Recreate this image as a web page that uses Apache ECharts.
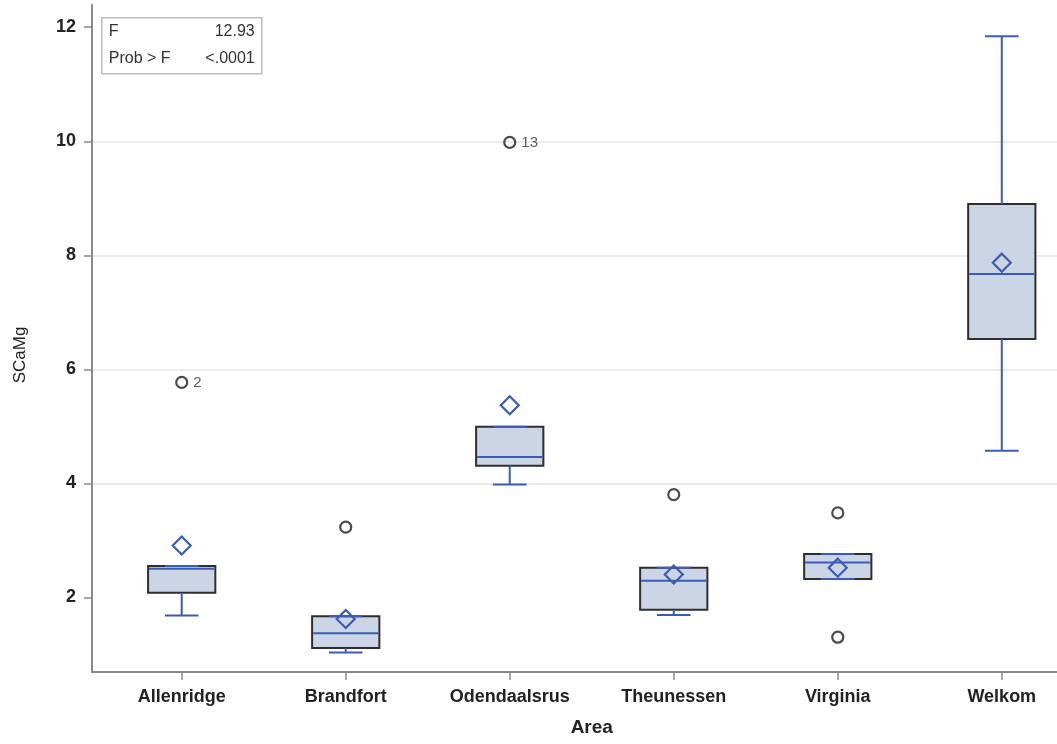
<!DOCTYPE html>
<html>
<head>
<meta charset="utf-8">
<script src="https://cdn.jsdelivr.net/npm/echarts@6/dist/echarts.min.js"></script>
<style>
  html, body { margin: 0; padding: 0; background: #fff; }
  #chart { width: 1057px; height: 744px; }
</style>
</head>
<body>
<div id="chart"></div>
<script>
// Area categories and five-number summaries of SCaMg per area
const categories   = ['Allenridge', 'Brandfort', 'Odendaalsrus', 'Theunessen', 'Virginia', 'Welkom'];
const whiskerLow   = [1.68, 1.03, 3.98, 1.69, 2.32, 4.57];
const q1Values     = [2.08, 1.11, 4.31, 1.78, 2.32, 6.53];
const medianValues = [2.50, 1.37, 4.46, 2.29, 2.61, 7.67];
const q3Values     = [2.55, 1.67, 4.99, 2.52, 2.76, 8.90];
const whiskerHigh  = [2.55, 1.67, 4.99, 2.52, 2.76, 11.84];
const meanValues   = [2.91, 1.62, 5.37, 2.40, 2.52, 7.87];

// Outlying observations: category index, value, observation id (if labelled)
const outlierCat   = [0, 1, 2, 3, 4, 4];
const outlierValue = [5.77, 3.23, 9.98, 3.80, 3.48, 1.30];
const outlierId    = ['2', '', '13', '', '', ''];

const yTicks = [2, 4, 6, 8, 10, 12];
const catIdx = categories.map((_, i) => i);

// ANOVA summary
const fValue = '12.93';
const probF  = '<.0001';

const BOX_W = 0.41;
const CAP_W = 0.205;
const BLUE = '#3a5cb6';
const FONT = '"Liberation Sans", Arial, sans-serif';

const boxData = categories.map((_, i) => [
  i, whiskerLow[i], q1Values[i], medianValues[i], q3Values[i], whiskerHigh[i], meanValues[i]
]);
const outlierData = outlierCat.map((c, k) => [c, outlierValue[k], outlierId[k]]);

function renderBox(params, api) {
  const i = api.value(0);
  const lo = api.coord([i, api.value(1)]);
  const q1 = api.coord([i, api.value(2)]);
  const md = api.coord([i, api.value(3)]);
  const q3 = api.coord([i, api.value(4)]);
  const hi = api.coord([i, api.value(5)]);
  const mn = api.coord([i, api.value(6)]);
  const bw = api.size([BOX_W, 0])[0];
  const cw = api.size([CAP_W, 0])[0];
  const cx = q1[0];
  const lineStyle = { stroke: BLUE, lineWidth: 2 };
  const d = 9;
  return {
    type: 'group',
    children: [
      { type: 'rect',
        shape: { x: cx - bw / 2, y: q3[1], width: bw, height: q1[1] - q3[1] },
        style: { fill: '#cbd5e6', stroke: '#2e2e2e', lineWidth: 2 } },
      { type: 'line', shape: { x1: cx, y1: q3[1], x2: cx, y2: hi[1] }, style: lineStyle },
      { type: 'line', shape: { x1: cx, y1: q1[1], x2: cx, y2: lo[1] }, style: lineStyle },
      { type: 'line', shape: { x1: cx - cw / 2, y1: hi[1], x2: cx + cw / 2, y2: hi[1] }, style: lineStyle },
      { type: 'line', shape: { x1: cx - cw / 2, y1: lo[1], x2: cx + cw / 2, y2: lo[1] }, style: lineStyle },
      { type: 'line', shape: { x1: cx - bw / 2 + 1, y1: md[1], x2: cx + bw / 2 - 1, y2: md[1] }, style: lineStyle },
      { type: 'polygon',
        shape: { points: [[mn[0], mn[1] - d], [mn[0] + d, mn[1]], [mn[0], mn[1] + d], [mn[0] - d, mn[1]]] },
        style: { fill: 'none', stroke: BLUE, lineWidth: 2.2 } }
    ]
  };
}

const chart = echarts.init(document.getElementById('chart'), null, { renderer: 'canvas' });

chart.setOption({
  backgroundColor: '#ffffff',
  animation: false,
  // the plot area runs past the right edge of the canvas
  grid: { left: 92, top: 5, width: 999.5, height: 667, containLabel: false, outerBoundsMode: 'none' },
  xAxis: {
    type: 'value',
    min: -0.547,
    max: 5.547,
    name: 'Area',
    nameLocation: 'middle',
    nameGap: 46,
    nameTextStyle: { fontFamily: FONT, fontSize: 19, fontWeight: 'bold', color: '#222' },
    axisLine: { show: true, onZero: false, lineStyle: { color: '#8a8a8a', width: 2 } },
    axisTick: { show: true, customValues: catIdx, length: 8, lineStyle: { color: '#8a8a8a', width: 1.5 } },
    axisLabel: {
      customValues: catIdx,
      formatter: v => categories[Math.round(v)],
      margin: 16,
      fontFamily: FONT, fontSize: 18, fontWeight: 'bold', color: '#222'
    },
    splitLine: { show: false }
  },
  yAxis: {
    type: 'value',
    min: 0.69,
    max: 12.39,
    axisLine: { show: true, onZero: false, lineStyle: { color: '#8a8a8a', width: 2 } },
    axisTick: { show: true, customValues: yTicks, length: 8, lineStyle: { color: '#8a8a8a', width: 1.5 } },
    axisLabel: {
      customValues: yTicks,
      margin: 16,
      fontFamily: FONT, fontSize: 18, fontWeight: 'bold', color: '#222'
    },
    splitLine: { show: true, showMinLine: false, showMaxLine: false, lineStyle: { color: '#e4e4e4', width: 1.5 } }
  },
  graphic: [
    {
      type: 'text', x: 20, y: 355, rotation: Math.PI / 2,
      style: { text: 'SCaMg', fontFamily: FONT, fontSize: 17, fill: '#222', align: 'center', verticalAlign: 'middle' }
    },
    {
      type: 'group', left: 101, top: 17, z: 100,
      children: [
        { type: 'rect', shape: { x: 0, y: 0, width: 160, height: 56 },
          style: { fill: '#ffffff', stroke: '#bdbdbd', lineWidth: 1.5 } },
        { type: 'text', x: 7, y: 14, style: { text: 'F', fontFamily: FONT, fontSize: 16, fill: '#333', verticalAlign: 'middle' } },
        { type: 'text', x: 153, y: 14, style: { text: fValue, fontFamily: FONT, fontSize: 16, fill: '#333', align: 'right', verticalAlign: 'middle' } },
        { type: 'text', x: 7, y: 41, style: { text: 'Prob > F', fontFamily: FONT, fontSize: 16, fill: '#333', verticalAlign: 'middle' } },
        { type: 'text', x: 153, y: 41, style: { text: probF, fontFamily: FONT, fontSize: 16, fill: '#333', align: 'right', verticalAlign: 'middle' } }
      ]
    }
  ],
  series: [
    {
      type: 'custom',
      renderItem: renderBox,
      data: boxData,
      encode: { x: 0, y: [1, 2, 3, 4, 5, 6] },
      clip: true,
      z: 2
    },
    {
      type: 'scatter',
      data: outlierData,
      symbol: 'circle',
      symbolSize: 11,
      itemStyle: { color: 'rgba(255,255,255,0)', borderColor: '#1e1e1e', borderWidth: 2.2 },
      label: {
        show: true,
        position: 'right',
        distance: 5,
        formatter: p => p.data[2],
        fontFamily: FONT, fontSize: 15, color: '#333'
      },
      z: 3
    }
  ]
});
</script>
</body>
</html>
